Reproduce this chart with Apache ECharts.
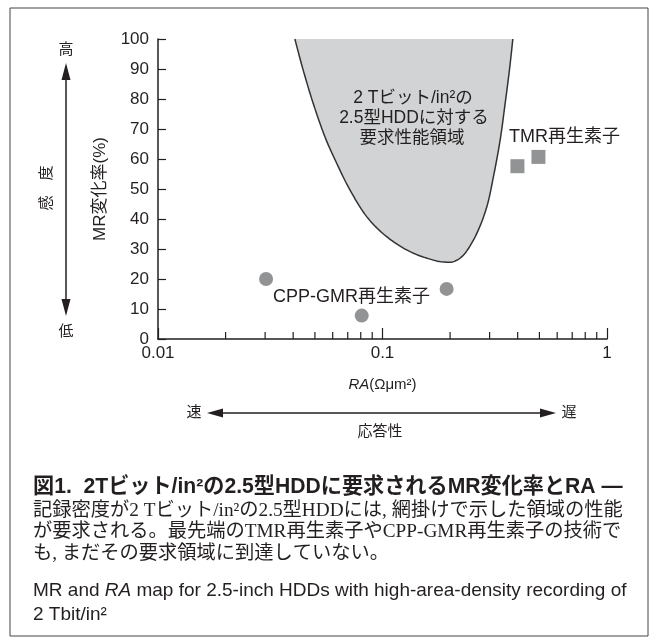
<!DOCTYPE html>
<html><head><meta charset="utf-8">
<script src="https://cdn.jsdelivr.net/npm/echarts@6/dist/echarts.min.js"></script>
<style>html,body{margin:0;padding:0;background:#fff}#c{width:656px;height:644px}</style>
</head><body><div id="c"></div>
<script>
// ---- data ----
const cppRA = [0.0303, 0.0808, 0.193];
const cppMR = [20, 7.8, 16.7];
const tmrRA = [0.399, 0.495];
const tmrMR = [57.6, 60.7];
// boundary of the required-performance region (left branch top -> bottom -> right branch top)
const regionRA = [0.0407, 0.0443, 0.0491, 0.0554, 0.0625, 0.0716, 0.0850, 0.1044, 0.1327, 0.1685, 0.1934, 0.2106, 0.2333, 0.2631, 0.2916, 0.3120, 0.3342, 0.3519, 0.3677, 0.3807];
const regionMR = [100, 89.7, 78.6, 67.4, 58.6, 49.7, 40.8, 34.1, 29.1, 26.3, 25.6, 26.0, 28.6, 35.2, 44.1, 54.1, 66.3, 78.6, 89.7, 100];
const minorTickRA = [0.02,0.03,0.04,0.05,0.06,0.07,0.08,0.09,0.2,0.3,0.4,0.5,0.6,0.7,0.8,0.9];
const xTickLabels = {0.01:'0.01', 0.1:'0.1', 1:'1'};
const yMin = 0, yMax = 100, yStep = 10;

const captionTitle = '図1.  2Tビット/in²の2.5型HDDに要求されるMR変化率とRA —';
const captionBody = ['記録密度が2 Tビット/in²の2.5型HDDには, 網掛けで示した領域の性能', 'が要求される。最先端のTMR再生素子やCPP-GMR再生素子の技術で', 'も, まだその要求領域に到達していない。'];
const captionEn = ['MR and RA map for 2.5-inch HDDs with high-area-density recording of', '2 Tbit/in²'];

const INK = '#231f20';
const SANS = '"Liberation Sans","Noto Sans CJK JP",sans-serif';
const SERIF = '"Liberation Serif","Noto Sans CJK JP",serif';

const mctx = document.createElement('canvas').getContext('2d');
function fitSize(text, family, weight, target, fallback) {
  mctx.font = weight + ' 100px ' + family;
  const w = mctx.measureText(text).width;
  if (!w) return fallback;
  return Math.min(fallback * 1.2, 100 * target / w);
}
const titleSize = fitSize(captionTitle, SANS, 'bold', 590, 19);
const bodySize = Math.min(fitSize(captionBody[0], SERIF, 'normal', 590, 18), fitSize(captionBody[1], SERIF, 'normal', 590, 18));
const enSize = fitSize(captionEn[0], SANS, 'normal', 594, 17);

function catmull(pts, seg) {
  const out = [], n = pts.length;
  for (let i = 0; i < n - 1; i++) {
    const p0 = pts[Math.max(i-1,0)], p1 = pts[i], p2 = pts[i+1], p3 = pts[Math.min(i+2,n-1)];
    for (let k = 0; k < seg; k++) {
      const t = k/seg, t2 = t*t, t3 = t2*t;
      const f = (a,b,c,d) => 0.5*((2*b) + (-a+c)*t + (2*a-5*b+4*c-d)*t2 + (-a+3*b-3*c+d)*t3);
      out.push([f(p0[0],p1[0],p2[0],p3[0]), f(p0[1],p1[1],p2[1],p3[1])]);
    }
  }
  out.push(pts[n-1]);
  return out;
}

const chart = echarts.init(document.getElementById('c'), null, {renderer:'canvas'});
chart.setOption({
  animation: false,
  backgroundColor: '#fff',
  grid: {left: 158, right: 49, top: 39, bottom: 305, containLabel: false},
  xAxis: {
    type: 'log', logBase: 10, min: 0.01, max: 1,
    name: '{i|RA}(Ωμm²)', nameLocation: 'middle', nameGap: 38,
    nameTextStyle: {color: INK, fontSize: 15, fontFamily: SANS, rich: {i: {fontStyle: 'italic', fontSize: 15, fontFamily: SANS, color: INK}}},
    axisLine: {show: true, lineStyle: {color: INK, width: 1.5}},
    axisTick: {show: true, inside: true, length: 11, lineStyle: {color: INK, width: 1.2}},
    axisLabel: {color: INK, fontSize: 17, fontFamily: SANS, margin: 6, formatter: v => xTickLabels[+v] !== undefined ? xTickLabels[+v] : String(v)},
    splitLine: {show: false}, minorTick: {show: false}, minorSplitLine: {show: false}
  },
  yAxis: {
    type: 'value', min: yMin, max: yMax, interval: yStep,
    name: 'MR変化率(%)', nameLocation: 'middle', nameGap: 49, nameRotate: 90,
    nameTextStyle: {color: INK, fontSize: 17, fontFamily: SANS},
    axisLine: {show: true, lineStyle: {color: INK, width: 1.5}},
    axisTick: {show: true, inside: true, length: 8, lineStyle: {color: INK, width: 1.2}},
    axisLabel: {color: INK, fontSize: 17, fontFamily: SANS, margin: 9},
    splitLine: {show: false}
  },
  series: [
    {
      type: 'custom', name: 'region', z: 1, silent: true,
      data: regionRA.map((x, i) => [x, regionMR[i]]),
      encode: {x: 0, y: 1},
      renderItem: function (params, api) {
        if (params.dataIndex !== 0) return null;
        const pts = regionRA.map((x, i) => api.coord([x, regionMR[i]]));
        const dense = catmull(pts, 12);
        return {type: 'group', children: [
          {type: 'polygon', shape: {points: dense}, style: {fill: '#d1d3d4', stroke: null}},
          {type: 'polyline', shape: {points: dense}, style: {stroke: '#333', lineWidth: 1.5, fill: null}}
        ]};
      }
    },
    {
      type: 'custom', name: 'minorTicks', z: 3, silent: true,
      data: minorTickRA.map(x => [x, yMin]),
      encode: {x: 0, y: 1},
      renderItem: function (params, api) {
        const p = api.coord([api.value(0), api.value(1)]);
        return {type: 'line', shape: {x1: p[0], y1: p[1], x2: p[0], y2: p[1] - 7}, style: {stroke: INK, lineWidth: 1.2}};
      }
    },
    {
      type: 'scatter', name: 'CPP-GMR', z: 4, symbol: 'circle', symbolSize: 14,
      itemStyle: {color: '#77787b'},
      data: cppRA.map((x, i) => [x, cppMR[i]])
    },
    {
      type: 'scatter', name: 'TMR', z: 4, symbol: 'rect', symbolSize: 14,
      itemStyle: {color: '#77787b'},
      data: tmrRA.map((x, i) => [x, tmrMR[i]])
    }
  ],
  graphic: [
    // frame
    {type: 'rect', shape: {x: 10, y: 8, width: 638, height: 628}, style: {fill: null, stroke: '#444', lineWidth: 1}, z: 0},
    // region label
    {type: 'text', x: 413, y: 98, z: 10, style: {text: '2 Tビット/in²の', fill: INK, fontSize: 17.5, fontFamily: SANS, align: 'center', verticalAlign: 'middle'}},
    {type: 'text', x: 414, y: 118, z: 10, style: {text: '2.5型HDDに対する', fill: INK, fontSize: 17.5, fontFamily: SANS, align: 'center', verticalAlign: 'middle'}},
    {type: 'text', x: 412, y: 138, z: 10, style: {text: '要求性能領域', fill: INK, fontSize: 17.5, fontFamily: SANS, align: 'center', verticalAlign: 'middle'}},
    // series labels
    {type: 'text', x: 509, y: 137, z: 10, style: {text: 'TMR再生素子', fill: INK, fontSize: 18, fontFamily: SANS, align: 'left', verticalAlign: 'middle'}},
    {type: 'text', x: 273, y: 297, z: 10, style: {text: 'CPP-GMR再生素子', fill: INK, fontSize: 18, fontFamily: SANS, align: 'left', verticalAlign: 'middle'}},
    // vertical sensitivity arrow
    {type: 'line', shape: {x1: 66, y1: 75, x2: 66, y2: 305}, style: {stroke: INK, lineWidth: 1.5}},
    {type: 'polygon', shape: {points: [[66, 63], [61.5, 80], [70.5, 80]]}, style: {fill: INK}},
    {type: 'polygon', shape: {points: [[66, 316], [61.5, 299], [70.5, 299]]}, style: {fill: INK}},
    {type: 'text', x: 66, y: 50, style: {text: '高', fill: INK, fontSize: 15, fontFamily: SANS, align: 'center', verticalAlign: 'middle'}},
    {type: 'text', x: 66, y: 332, style: {text: '低', fill: INK, fontSize: 15, fontFamily: SANS, align: 'center', verticalAlign: 'middle'}},
    {type: 'text', x: 47, y: 188, rotation: Math.PI / 2, style: {text: '感　度', fill: INK, fontSize: 15, fontFamily: SANS, align: 'center', verticalAlign: 'middle'}},
    // horizontal response arrow
    {type: 'line', shape: {x1: 218, y1: 413, x2: 545, y2: 413}, style: {stroke: INK, lineWidth: 1.5}},
    {type: 'polygon', shape: {points: [[207, 413], [223, 408.5], [223, 417.5]]}, style: {fill: INK}},
    {type: 'polygon', shape: {points: [[556, 413], [540, 408.5], [540, 417.5]]}, style: {fill: INK}},
    {type: 'text', x: 194, y: 413, style: {text: '速', fill: INK, fontSize: 15, fontFamily: SANS, align: 'center', verticalAlign: 'middle'}},
    {type: 'text', x: 569, y: 413, style: {text: '遅', fill: INK, fontSize: 15, fontFamily: SANS, align: 'center', verticalAlign: 'middle'}},
    {type: 'text', x: 380, y: 432, style: {text: '応答性', fill: INK, fontSize: 15, fontFamily: SANS, align: 'center', verticalAlign: 'middle'}},
    // caption
    {type: 'text', x: 33, y: 487, style: {text: captionTitle, fill: INK, fontSize: titleSize, fontWeight: 'bold', fontFamily: SANS, align: 'left', verticalAlign: 'middle'}},
    {type: 'text', x: 33, y: 511, style: {text: captionBody[0], fill: INK, fontSize: bodySize, fontFamily: SERIF, align: 'left', verticalAlign: 'middle'}},
    {type: 'text', x: 33, y: 532, style: {text: captionBody[1], fill: INK, fontSize: bodySize, fontFamily: SERIF, align: 'left', verticalAlign: 'middle'}},
    {type: 'text', x: 33, y: 554, style: {text: captionBody[2], fill: INK, fontSize: bodySize, fontFamily: SERIF, align: 'left', verticalAlign: 'middle'}},
    {type: 'text', x: 33, y: 591, style: {rich: {i: {fontStyle: 'italic', fontSize: enSize, fontFamily: SANS, fill: INK}}, text: captionEn[0].replace('RA', '{i|RA}'), fill: INK, fontSize: enSize, fontFamily: SANS, align: 'left', verticalAlign: 'middle'}},
    {type: 'text', x: 33, y: 615, style: {text: captionEn[1], fill: INK, fontSize: enSize, fontFamily: SANS, align: 'left', verticalAlign: 'middle'}}
  ]
});
</script>
</body></html>
